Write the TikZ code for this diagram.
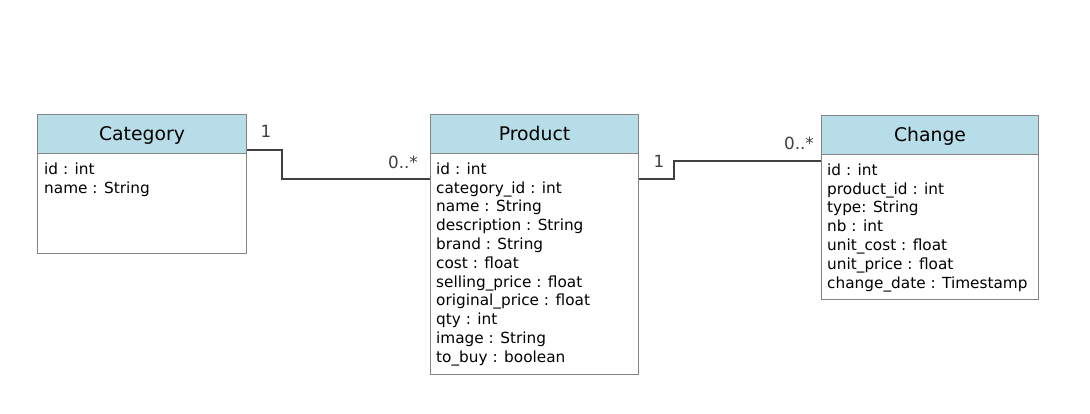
\documentclass[tikz,border=0pt]{standalone}
\usepackage{fontspec}
\setmainfont{DejaVu Sans}
\definecolor{hdrblue}{HTML}{B7DDE8}
\definecolor{boxgray}{HTML}{858585}
\definecolor{conngray}{HTML}{404040}
\begin{document}
\begin{tikzpicture}[x=1pt,y=-1pt,
  hdr/.style={draw=boxgray, line width=1pt, fill=hdrblue, anchor=north west, inner sep=0pt,
    minimum height=39pt, text height=13.7pt, text depth=0pt,
    font=\fontsize{18.8}{22}\selectfont, text=black},
  bodybox/.style={draw=boxgray, line width=1pt, fill=white, anchor=north west, inner sep=0pt},
  attrs/.style={anchor=north west, inner sep=0pt, align=left,
    font=\fontsize{15.3}{18.8}\selectfont, text=black},
  conn/.style={draw=conngray, line width=1.3pt},
  mult/.style={anchor=base, inner sep=0pt, font=\fontsize{16.8}{20}\selectfont, text=conngray}
]
\useasboundingbox (0,0) rectangle (1090,414);

% Category
\node[bodybox, minimum width=209pt, minimum height=100pt] (catb) at (37,153) {};
\node[hdr, minimum width=209pt] (cath) at (37,114) {Category};
\node[attrs] (cata) at (44,162.4) {id : int\\name : String};

% Product
\node[bodybox, minimum width=208pt, minimum height=221pt] (prodb) at (430,153) {};
\node[hdr, minimum width=208pt] (prodh) at (430,114) {Product};
\node[attrs] (proda) at (436,162.4) {id : int\\category\_id : int\\name : String\\description : String\\brand : String\\cost : float\\selling\_price : float\\original\_price : float\\qty : int\\image : String\\to\_buy : boolean};

% Change
\node[bodybox, minimum width=217pt, minimum height=145pt] (chgb) at (821,154) {};
\node[hdr, minimum width=217pt] (chgh) at (821,115) {Change};
\node[attrs] (chga) at (827,163.4) {id : int\\product\_id : int\\type: String\\nb : int\\unit\_cost : float\\unit\_price : float\\change\_date : Timestamp};

% connectors
\draw[conn] ([yshift=4pt]cath.south east) -- ++(35,0) |- ([yshift=-26pt]prodb.north west);
\draw[conn] ([yshift=-26pt]prodb.north east) -- ++(35,0) |- ([yshift=-7pt]chgb.north west);

% multiplicities
\node[mult] (m1) at (266,137.7) {1};
\node[mult] (m2) at (403,168.3) {0..*};
\node[mult] (m3) at (659,167.7) {1};
\node[mult] (m4) at (799,149.5) {0..*};
\end{tikzpicture}
\end{document}
